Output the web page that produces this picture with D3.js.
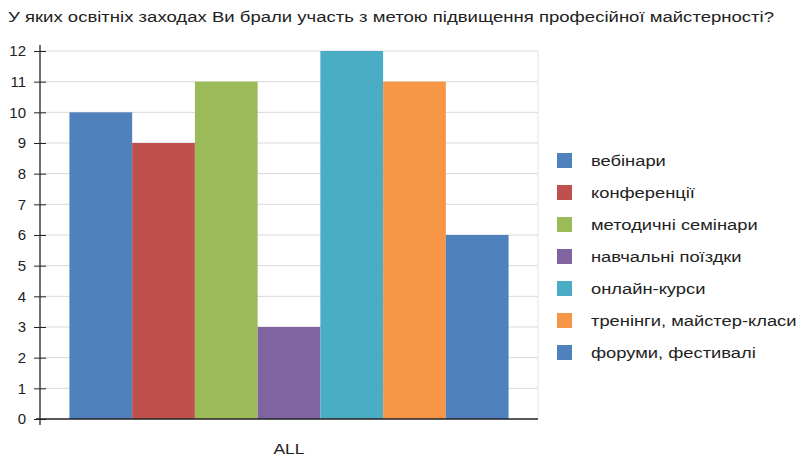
<!DOCTYPE html>
<html>
<head>
<meta charset="utf-8">
<script src="https://cdn.jsdelivr.net/npm/d3@7"></script>
<style>
  body { margin: 0; background: #fff; }
  text { font-family: "Liberation Sans", Arial, sans-serif; fill: #222; }
</style>
</head>
<body>
<div id="chart"></div>
<script>
// chart data
var title = "У яких освітніх заходах Ви брали участь з метою підвищення професійної майстерності?";
var categories = ["вебінари", "конференції", "методичні семінари", "навчальні поїздки",
  "онлайн-курси", "тренінги, майстер-класи", "форуми, фестивалі"];
var values = [10, 9, 11, 3, 12, 11, 6];
var colors = ["#4f81bd", "#c0504d", "#9bbb59", "#8064a2", "#4bacc6", "#f79646", "#4f81bd"];
var groupLabel = "ALL";
var yTicks = [0, 1, 2, 3, 4, 5, 6, 7, 8, 9, 10, 11, 12];

var svgWidth = 799, svgHeight = 459;
var margin = { top: 51, right: 261, bottom: 40, left: 40 };
var width = svgWidth - margin.left - margin.right;
var height = svgHeight - margin.top - margin.bottom;

var svg = d3.select("#chart").append("svg")
  .attr("width", svgWidth)
  .attr("height", svgHeight);

// title (the source picture is stretched wide, so squeeze text to its length)
svg.append("text")
  .attr("x", 8)
  .attr("y", 22)
  .attr("textLength", 766)
  .attr("lengthAdjust", "spacingAndGlyphs")
  .style("font-size", "14px")
  .text(title);

var chartGroup = svg.append("g")
  .attr("transform", `translate(${margin.left}, ${margin.top})`);

var y = d3.scaleLinear().domain([0, 12]).range([height, 0]);
var x0 = d3.scaleBand().domain([groupLabel]).range([0, width]).paddingInner(0).paddingOuter(0.067);
var x1 = d3.scaleBand().domain(categories).range([0, x0.bandwidth()]);

// grid lines
chartGroup.append("g")
  .selectAll("line")
  .data(yTicks.slice(1))
  .enter().append("line")
  .attr("x1", 0).attr("x2", width)
  .attr("y1", d => y(d)).attr("y2", d => y(d))
  .attr("stroke", "#d9d9d9");

chartGroup.append("line")
  .attr("x1", width).attr("x2", width)
  .attr("y1", 0).attr("y2", height)
  .attr("stroke", "#e3e3e3");

// bars
chartGroup.append("g")
  .attr("transform", `translate(${x0(groupLabel)}, 0)`)
  .selectAll("rect")
  .data(values)
  .enter().append("rect")
  .attr("x", (d, i) => x1(categories[i]))
  .attr("width", x1.bandwidth())
  .attr("y", d => y(d))
  .attr("height", d => height - y(d))
  .attr("fill", (d, i) => colors[i]);

// y axis
var leftAxis = d3.axisLeft(y).tickValues(yTicks).tickFormat(d3.format("d")).tickSizeInner(6).tickSizeOuter(0);
var yAxis = chartGroup.append("g").call(leftAxis);
yAxis.select(".domain").remove();
yAxis.append("line")
  .attr("x1", 0).attr("x2", 0)
  .attr("y1", -6).attr("y2", height + 6)
  .attr("stroke", "#222").attr("stroke-width", 1.3);
yAxis.selectAll(".tick line").attr("x1", -6).attr("x2", 6).attr("stroke", "#222");
yAxis.selectAll(".tick text")
  .attr("x", -14)
  .style("font-size", "15px")
  .style("font-family", "Liberation Sans, Arial, sans-serif")
  .attr("fill", "#222");

// x axis line
chartGroup.append("line")
  .attr("x1", -4).attr("x2", width)
  .attr("y1", height).attr("y2", height)
  .attr("stroke", "#222").attr("stroke-width", 1.3);

chartGroup.append("text")
  .attr("transform", `translate(${x0(groupLabel) + x0.bandwidth() / 2}, ${height + 35}) scale(1.25, 1)`)
  .attr("text-anchor", "middle")
  .style("font-size", "14px")
  .text(groupLabel);

// legend
var legend = svg.append("g")
  .attr("transform", "translate(557, 161)")
  .selectAll("g")
  .data(categories)
  .enter().append("g")
  .attr("transform", (d, i) => `translate(0, ${i * 32})`);

legend.append("rect")
  .attr("x", 0).attr("y", -8)
  .attr("width", 15).attr("height", 15)
  .attr("fill", (d, i) => colors[i]);

legend.append("text")
  .attr("transform", "translate(34, 0) scale(1.31, 1)")
  .attr("dominant-baseline", "central")
  .style("font-size", "14px")
  .text(d => d);
</script>
</body>
</html>
